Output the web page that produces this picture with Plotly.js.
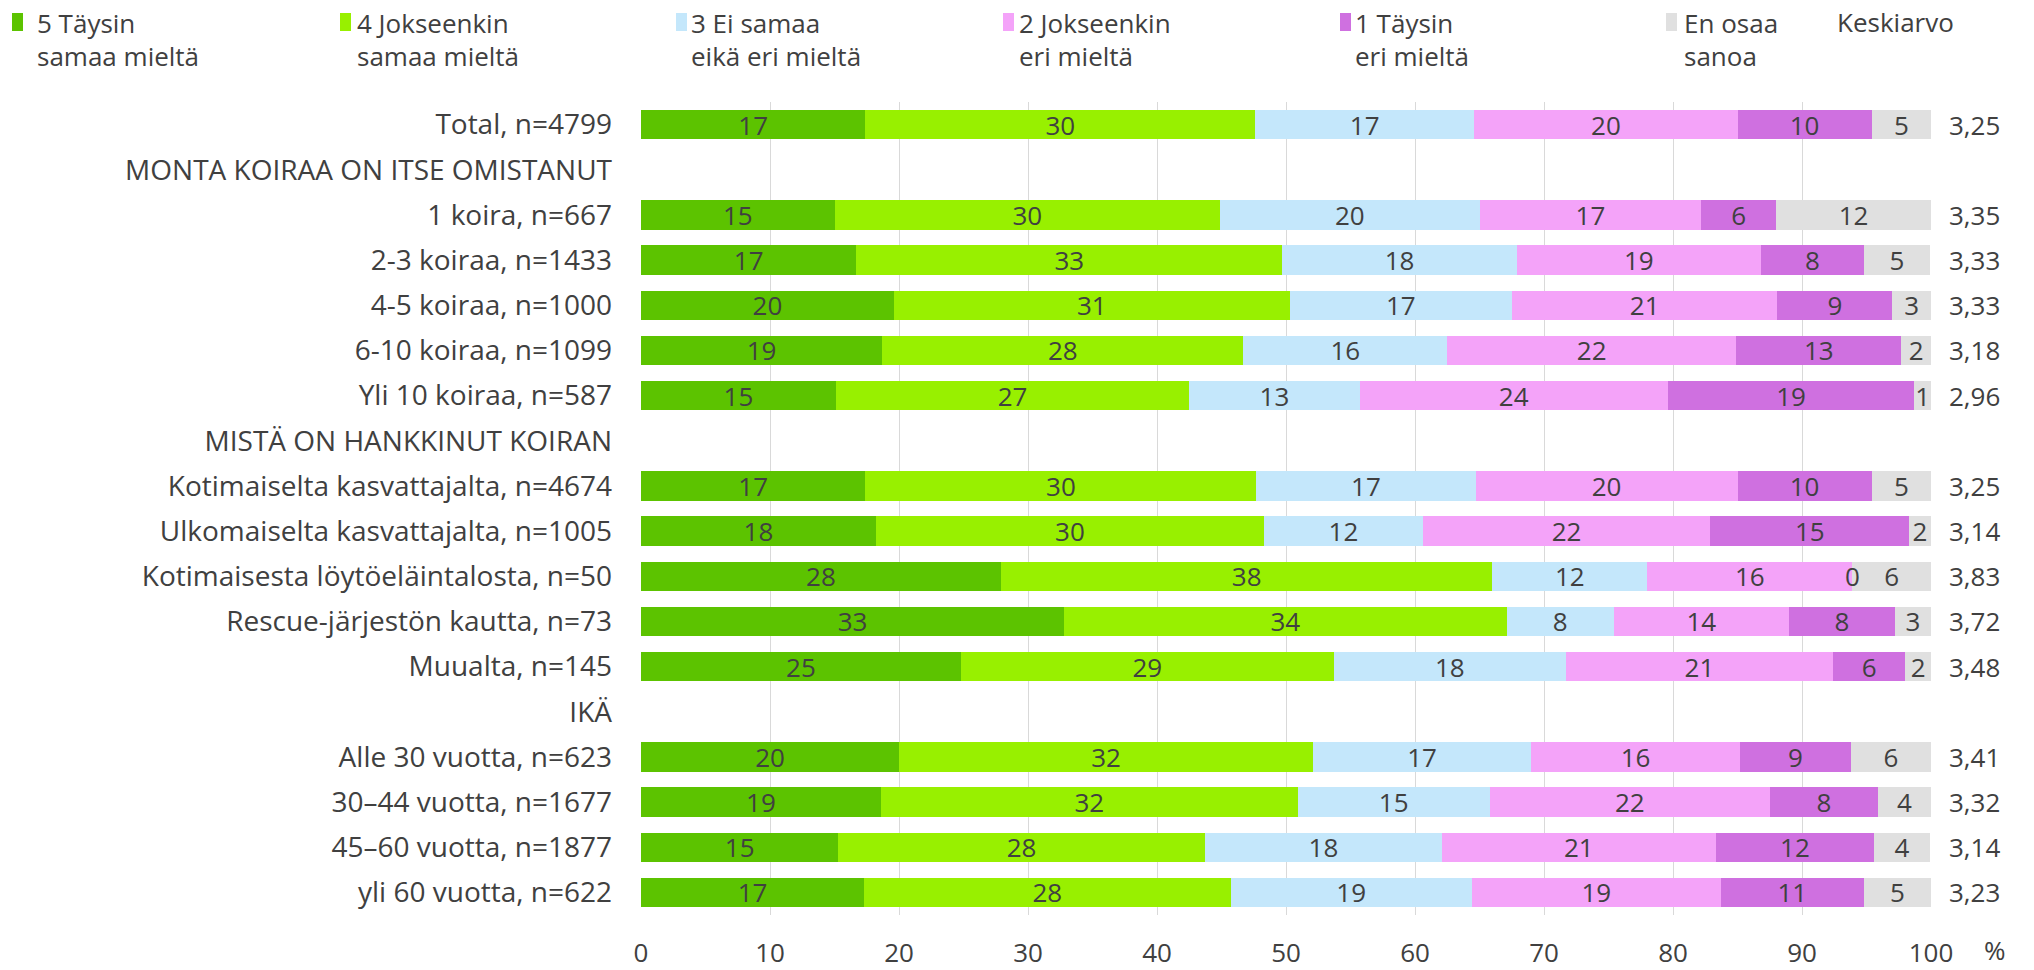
<!DOCTYPE html>
<html>
<head>
<meta charset="utf-8">
<script src="https://cdn.plot.ly/plotly-3.0.1.min.js"></script>
<style>html,body{margin:0;padding:0;background:#fff;}#chart{width:2034px;height:970px;}</style>
</head>
<body>
<div id="chart"></div>
<script>
var categories = ["Total, n=4799", "MONTA KOIRAA ON ITSE OMISTANUT", "1 koira, n=667", "2-3 koiraa, n=1433", "4-5 koiraa, n=1000", "6-10 koiraa, n=1099", "Yli 10 koiraa, n=587", "MISTÄ ON HANKKINUT KOIRAN", "Kotimaiselta kasvattajalta, n=4674", "Ulkomaiselta kasvattajalta, n=1005", "Kotimaisesta löytöeläintalosta, n=50", "Rescue-järjestön kautta, n=73", "Muualta, n=145", "IKÄ", "Alle 30 vuotta, n=623", "30–44 vuotta, n=1677", "45–60 vuotta, n=1877", "yli 60 vuotta, n=622"];

var seriesNames = ["5 Täysin<br>samaa mieltä", "4 Jokseenkin<br>samaa mieltä", "3 Ei samaa<br>eikä eri mieltä", "2 Jokseenkin<br>eri mieltä", "1 Täysin<br>eri mieltä", "En osaa<br>sanoa"];

var s5 = [17.4, null, 15.0, 16.7, 19.6, 18.7, 15.1, null, 17.4, 18.2, 27.9, 32.8, 24.8, null, 20.0, 18.6, 15.3, 17.3];
var s4 = [30.2, null, 29.9, 33.0, 30.7, 28.0, 27.4, null, 30.3, 30.1, 38.1, 34.3, 28.9, null, 32.1, 32.3, 28.4, 28.4];
var s3 = [17.0, null, 20.1, 18.2, 17.2, 15.8, 13.2, null, 17.0, 12.3, 12.0, 8.3, 18.0, null, 16.9, 14.9, 18.4, 18.7];
var s2 = [20.4, null, 17.2, 18.9, 20.6, 22.4, 23.9, null, 20.3, 22.3, 15.9, 13.6, 20.7, null, 16.2, 21.7, 21.2, 19.3];
var s1 = [10.4, null, 5.8, 8.0, 8.9, 12.8, 19.1, null, 10.4, 15.4, 0, 8.2, 5.6, null, 8.6, 8.4, 12.3, 11.1];
var s0 = [4.6, null, 12.0, 5.1, 3.0, 2.3, 1.3, null, 4.6, 1.7, 6.1, 2.8, 2.0, null, 6.2, 4.1, 4.3, 5.2];

var means = [3.25, null, 3.35, 3.33, 3.33, 3.18, 2.96, null, 3.25, 3.14, 3.83, 3.72, 3.48, null, 3.41, 3.32, 3.14, 3.23];
var meanTitle = "Keskiarvo";
var xTicks = [0, 10, 20, 30, 40, 50, 60, 70, 80, 90, 100];

var colors = ["#5CC300", "#98F000", "#C4E7FB", "#F4A3F9", "#CF70E0", "#E0E0E0"];
var FONT = "Open Sans, Liberation Sans, sans-serif";
var TXT = "#404040";
var FS = 26;

var W = 2034, H = 970;
var M = {l: 641, r: 103, t: 102, b: 55};
var plotW = W - M.l - M.r, plotH = H - M.t - M.b;

// legend entry layout (page pixels): text start, symbol left edge, first-line centre
var legendTextX = [37, 357, 691, 1019, 1355, 1684];
var legendSymX = [12, 340, 676, 1003, 1340, 1666];
var legendLineY = 22;

var legendIds = ["legend", "legend2", "legend3", "legend4", "legend5", "legend6"];
var allSeries = [s5, s4, s3, s2, s1, s0];
var traces = allSeries.map(function (vals, i) {
  return {
    type: "bar", orientation: "h", name: seriesNames[i], legend: legendIds[i],
    x: vals, y: categories,
    marker: {color: colors[i], line: {width: 0}},
    texttemplate: "%{x:.0f}", textposition: "inside", insidetextanchor: "middle",
    constraintext: "none", textangle: 0,
    textfont: {family: FONT, size: FS, color: TXT},
    hoverinfo: "skip", cliponaxis: false
  };
});

var annotations = [];
// label for zero-width segments (Plotly draws no text inside an empty bar)
categories.forEach(function (c, r) {
  var cum = 0;
  allSeries.forEach(function (vals) {
    var v = vals[r];
    if (v === null) return;
    if (v === 0) {
      annotations.push({xref: "x", yref: "y", x: cum, y: c, xanchor: "center", yanchor: "middle",
        showarrow: false, text: "0", font: {family: FONT, size: FS, color: TXT}});
    }
    cum += v;
  });
});
means.forEach(function (m, i) {
  if (m === null) return;
  annotations.push({xref: "paper", yref: "y", x: 1.0124, y: categories[i],
    xanchor: "left", yanchor: "middle", showarrow: false,
    text: m.toFixed(2).replace(".", ","), font: {family: FONT, size: FS, color: TXT}});
});
annotations.push({xref: "paper", yref: "paper", x: (1835 - M.l) / plotW, y: 1 + (M.t - legendLineY) / plotH,
  xanchor: "left", yanchor: "middle", showarrow: false, text: meanTitle, font: {family: FONT, size: FS, color: TXT}});
annotations.push({xref: "paper", yref: "paper", x: 1.0395, y: -0.043,
  xanchor: "left", yanchor: "middle", showarrow: false, text: "%", font: {family: FONT, size: FS, color: TXT}});

var layout = {
  width: W, height: H, margin: {l: M.l, r: M.r, t: M.t, b: M.b, pad: 0},
  paper_bgcolor: "#ffffff", plot_bgcolor: "#ffffff",
  barmode: "stack", bargap: 0.35,
  font: {family: FONT, size: FS, color: TXT}, showlegend: true,
  xaxis: {range: [0, 100], tickvals: xTicks, ticktext: xTicks.map(String),
    showgrid: true, gridcolor: "#D9D9D9", gridwidth: 1, zeroline: false, showline: false, ticks: "",
    ticklabelstandoff: 20, tickfont: {family: FONT, size: FS, color: TXT}, fixedrange: true},
  yaxis: {type: "category", categoryorder: "array", categoryarray: categories, autorange: "reversed",
    showgrid: false, zeroline: false, showline: false, ticks: "",
    ticklabelstandoff: 28, tickfont: {family: FONT, size: 28, color: TXT}, fixedrange: true},
  annotations: annotations
};
legendIds.forEach(function (id, i) {
  var px = Math.max(14, legendTextX[i] - 40);
  layout[id] = {orientation: "h", xref: "paper", yref: "paper",
    x: (px - M.l) / plotW, xanchor: "left", y: 1 + (M.t - 14) / plotH, yanchor: "top",
    font: {family: FONT, size: FS, color: TXT}, valign: "top", traceorder: "normal",
    bgcolor: "rgba(0,0,0,0)", borderwidth: 0, itemclick: false};
});

Plotly.newPlot("chart", traces, layout, {displayModeBar: false, staticPlot: true}).then(function () {
  legendIds.forEach(function (id, i) {
    var g = document.querySelector("g." + id);
    if (!g) return;
    var txt = g.querySelector("text");
    if (!txt) return;
    var r = txt.getBoundingClientRect();
    var dx = legendTextX[i] - r.left;
    var dy = legendLineY - (r.top + r.height / 4);
    var tr = g.getAttribute("transform") || "";
    var mm = /translate\(\s*([-\d.e]+)[ ,]+([-\d.e]+)\s*\)/.exec(tr);
    var tx = mm ? parseFloat(mm[1]) : 0, ty = mm ? parseFloat(mm[2]) : 0;
    g.setAttribute("transform", "translate(" + (tx + dx) + "," + (ty + dy) + ")");
    var p = g.querySelector(".legendpoints path");
    if (!p) return;
    var inv = p.getScreenCTM().inverse();
    var svg = p.ownerSVGElement;
    function loc(x, y) { var pt = svg.createSVGPoint(); pt.x = x; pt.y = y; return pt.matrixTransform(inv); }
    var a = loc(legendSymX[i], legendLineY - 9);
    var b = loc(legendSymX[i] + 11, legendLineY + 9);
    p.setAttribute("d", "M" + a.x + "," + a.y + "H" + b.x + "V" + b.y + "H" + a.x + "Z");
  });
});
</script>
</body>
</html>
